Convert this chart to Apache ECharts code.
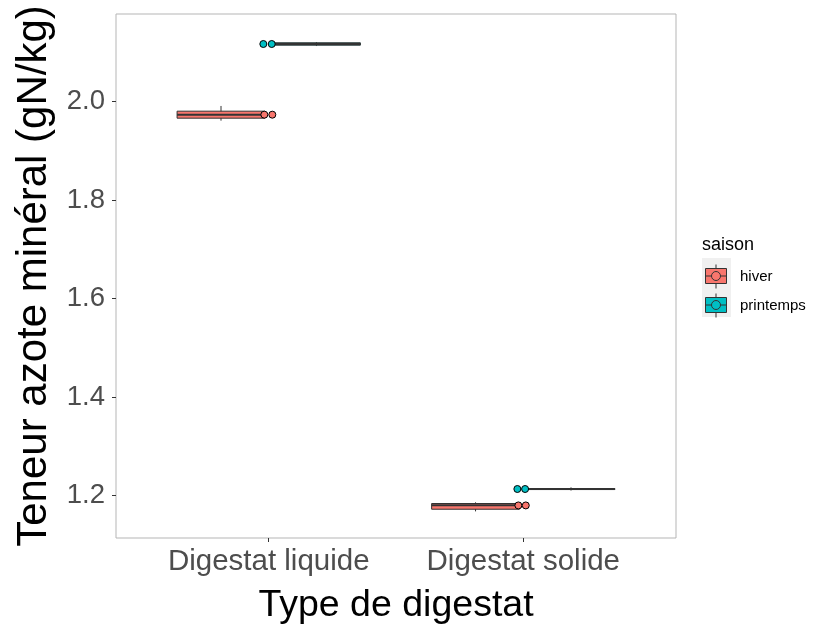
<!DOCTYPE html>
<html>
<head>
<meta charset="utf-8">
<script src="https://cdn.jsdelivr.net/npm/echarts@6/dist/echarts.min.js"></script>
<style>html,body{margin:0;padding:0;background:#fff}#c{width:816px;height:631px}</style>
</head>
<body>
<div id="c"></div>
<script>
// ---- data ----
const categories = ['Digestat liquide', 'Digestat solide'];
const seasons = ['hiver', 'printemps'];
const seasonColors = ['#F8766D', '#00BFC4'];
// box stats per category: [min, Q1, median, Q3, max]
const hiverBox = [
  [1.9611, 1.9661, 1.9732, 1.9803, 1.9909],
  [1.1682, 1.1726, 1.1805, 1.1842, 1.1866]
];
const printempsBox = [
  [2.1125, 2.1142, 2.1166, 2.1191, 2.1205],
  [1.2105, 1.2125, 1.2136, 1.2145, 1.2170]
];
// individual points: [category position (1-based, with jitter), value]
const hiverPoints = [
  [0.9827, 1.9732], [1.0141, 1.9732],
  [1.9807, 1.1803], [2.0098, 1.1803]
];
const printempsPoints = [
  [0.9788, 2.1166], [1.0118, 2.1166],
  [1.9768, 1.2136], [2.0071, 1.2136]
];
const yTicks = [1.2, 1.4, 1.6, 1.8, 2.0];

// ---- chart ----
const dodge = 0.1875;
const halfWidth = 0.1725;
const font = 'Liberation Sans, Arial, sans-serif';

function boxSeries(name, stats, offset, color) {
  return {
    type: 'custom',
    name: name,
    itemStyle: { color: color },
    encode: { x: 0, y: [1, 2, 3, 4, 5] },
    data: stats.map((s, i) => [i + 1].concat(s)),
    z: 2,
    renderItem: function (params, api) {
      const x = api.value(0) + offset;
      const left = api.coord([x - halfWidth, 0])[0];
      const right = api.coord([x + halfWidth, 0])[0];
      const cx = api.coord([x, 0])[0];
      const yMin = api.coord([x, api.value(1)])[1];
      const yQ1 = api.coord([x, api.value(2)])[1];
      const yMed = api.coord([x, api.value(3)])[1];
      const yQ3 = api.coord([x, api.value(4)])[1];
      const yMax = api.coord([x, api.value(5)])[1];
      return {
        type: 'group',
        children: [
          { type: 'line', shape: { x1: cx, y1: yMax, x2: cx, y2: yMin },
            style: { stroke: '#333333', lineWidth: 1 } },
          { type: 'rect', shape: { x: left, y: yQ3, width: right - left, height: yQ1 - yQ3 },
            style: { fill: color, stroke: '#333333', lineWidth: 1 } },
          { type: 'line', shape: { x1: left, y1: yMed, x2: right, y2: yMed },
            style: { stroke: '#333333', lineWidth: 2 } }
        ]
      };
    }
  };
}

function pointSeries(name, pts, color) {
  return {
    type: 'scatter',
    name: name,
    data: pts,
    symbol: 'circle',
    symbolSize: 7,
    z: 5,
    itemStyle: { color: color, borderColor: '#000', borderWidth: 1, opacity: 1 }
  };
}

const legendIcon = 'path://M11,0L11,4M0.5,4L21.5,4L21.5,19L0.5,19ZM11,19L11,24M0.5,11.5L6.5,11.5M15.5,11.5L21.5,11.5M15.5,11.5A4.5,4.5 0 1 1 6.5,11.5A4.5,4.5 0 1 1 15.5,11.5Z';

const chart = echarts.init(document.getElementById('c'), null, { renderer: 'canvas' });
chart.setOption({
  animation: false,
  backgroundColor: '#ffffff',
  textStyle: { fontFamily: font },
  grid: {
    left: 116, right: 140, top: 14, bottom: 93,
    show: true, borderColor: '#B5B5B5', borderWidth: 1, backgroundColor: '#ffffff'
  },
  xAxis: {
    type: 'value',
    min: 0.4, max: 2.6,
    name: 'Type de digestat',
    nameLocation: 'middle',
    nameGap: 49,
    nameTextStyle: { fontSize: 37.5, color: '#000000', fontFamily: font },
    axisLine: { show: false },
    splitLine: { show: false },
    axisTick: { show: true, length: 4, lineStyle: { color: '#333333' }, customValues: [1, 2] },
    axisLabel: {
      customValues: [1, 2],
      fontSize: 29.5, color: '#4D4D4D', margin: 9, fontFamily: font,
      formatter: v => categories[Math.round(v) - 1]
    }
  },
  yAxis: {
    type: 'value',
    min: 1.1142, max: 2.1775,
    name: 'Teneur azote minéral (gN/kg)',
    nameLocation: 'middle',
    nameGap: 57,
    nameTextStyle: { fontSize: 42, color: '#000000', fontFamily: font },
    axisLine: { show: false },
    splitLine: { show: false },
    axisTick: { show: true, length: 4, lineStyle: { color: '#333333' }, customValues: yTicks },
    axisLabel: {
      customValues: yTicks,
      fontSize: 27.5, color: '#4D4D4D', margin: 11, fontFamily: font,
      formatter: v => v.toFixed(1)
    }
  },
  legend: {
    orient: 'vertical',
    left: 705, top: 264, padding: 0,
    itemWidth: 22, itemHeight: 24, itemGap: 4,
    itemStyle: { borderColor: '#333333', borderWidth: 1 },
    textStyle: { fontSize: 15, color: '#000000', fontFamily: font, padding: [0, 0, 0, 8] },
    data: seasons.map(s => ({ name: s, icon: legendIcon })),
    selectedMode: false
  },
  graphic: [
    { type: 'rect', left: 702, top: 258, z: -1, silent: true,
      shape: { width: 29, height: 59 }, style: { fill: '#F0F0F0' } },
    { type: 'text', left: 702, top: 236, silent: true,
      style: { text: 'saison', fontSize: 18, fill: '#000000', font: '18px Liberation Sans, Arial, sans-serif' } }
  ],
  series: [
    boxSeries(seasons[0], hiverBox, -dodge, seasonColors[0]),
    boxSeries(seasons[1], printempsBox, dodge, seasonColors[1]),
    pointSeries(seasons[0], hiverPoints, seasonColors[0]),
    pointSeries(seasons[1], printempsPoints, seasonColors[1])
  ]
});
</script>
</body>
</html>
